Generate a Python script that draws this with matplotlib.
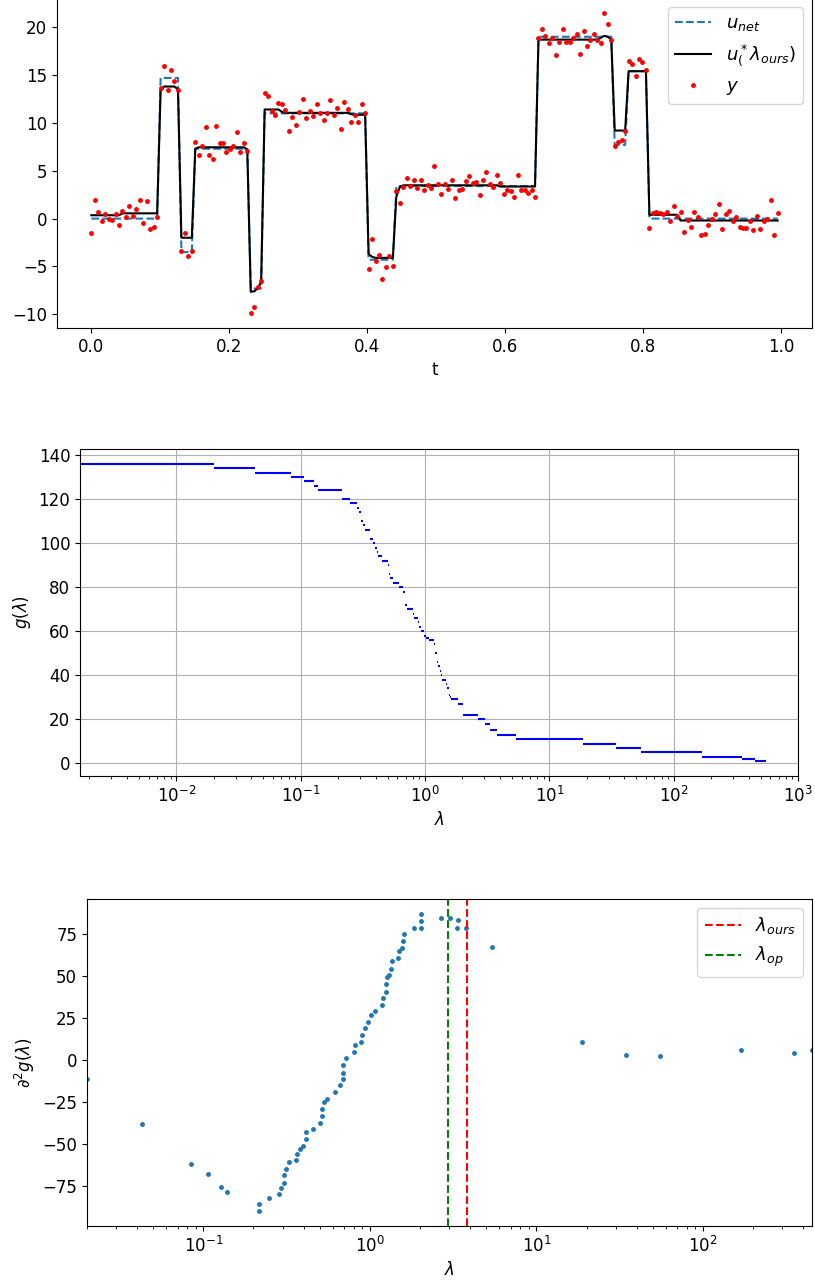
import matplotlib
matplotlib.use('Agg')
import matplotlib.pyplot as plt
import numpy as np

plt.rcParams['font.size'] = 12

# ---- top panel: signal, estimate and noisy samples ----
t = np.linspace(0, 0.995, 199)

y_obs = [-1.46, 1.99, 0.73, -0.28, 0.45, 0.0, -0.18, 0.52, -0.67, 0.8,
         0.13, 1.29, 0.24, 1.0, 1.98, -0.49, 1.88, -1.08, -0.87, 0.2,
         13.6, 15.9, 13.4, 15.5, 14.35, 13.4, -3.38, -1.54, -3.9, -3.38,
         8.05, 6.69, 7.6, 9.54, 6.69, 6.27, 9.68, 7.94, 7.94, 6.96,
         7.24, 7.6, 9.02, 6.96, 7.94, 7.07, -9.87, -9.27, -7.1, -6.55,
         13.17, 12.8, 11.2, 10.8, 12.1, 12.0, 11.3, 9.16, 10.6, 9.8,
         11.1, 12.5, 10.5, 11.2, 10.7, 12.0, 11.0, 10.3, 11.0, 12.4,
         10.8, 11.6, 9.4, 12.2, 11.5, 10.1, 10.8, 10.1, 12.0, 11.0,
         -5.3, -2.1, -4.4, -3.8, -6.3, -5.1, -3.9, -4.95, 2.9, 1.67,
         3.3, 4.24, 3.4, 4.07, 3.24, 4.03, 2.96, 3.5, 3.24, 5.5,
         3.6, 2.57, 3.66, 3.13, 4.07, 2.19, 3.03, 3.13, 3.93, 4.42,
         3.72, 3.83, 2.47, 4.03, 4.91, 3.59, 3.3, 4.53, 3.72, 2.57,
         3.03, 2.89, 2.26, 4.53, 2.96, 2.96, 2.68, 3.03, 2.26, 18.9,
         19.8, 19.06, 18.36, 18.9, 17.07, 18.43, 19.8, 18.43, 18.43, 18.9,
         19.34, 17.17, 19.55, 18.05, 18.64, 19.27, 18.64, 18.36, 21.5, 20.3,
         18.7, 7.56, 8.05, 8.18, 9.12, 16.44, 16.2, 14.95, 16.68, 16.37,
         15.53, -0.98, 0.59, 0.73, 0.63, 0.48, 0.66, -0.25, 1.29, 0.3,
         0.73, -1.43, -0.1, -0.88, 0.73, 0.2, -1.75, -1.6, -0.67, -0.04,
         0.52, 1.53, -1.09, 0.52, 0.84, -0.28, 0.17, -0.88, -0.94, -0.94,
         -0.25, -1.22, 0.31, -1.09, -0.25, 0.0, 1.99, -1.75, 0.63]

# piecewise constant pieces (level, number of samples)
unet_levels = [0.0, 14.7, -3.5, 7.3, -7.3, 11.0, -4.3, 3.4, 19.0, 7.7, 15.4, 0.0]
unet_counts = [20, 6, 4, 16, 4, 30, 8, 41, 22, 4, 6, 38]

ustar_levels = [0.35, 0.55, 13.4, 13.8, 13.5, -2.0, 7.3, 7.45, 7.2,
                -7.65, -7.6, -7.3, -6.6, 11.4, 11.15, 11.05, 10.9, 10.85,
                -3.7, -4.0, -4.1, 2.3, 3.3, 3.48, 3.35,
                18.7, 18.9, 19.1, 19.0, 18.7, 9.2, 15.4, 0.4, -0.2]
ustar_counts = [9, 11, 1, 4, 1, 4, 1, 14, 1,
                1, 1, 1, 1, 5, 1, 19, 1, 4,
                1, 1, 6, 1, 1, 28, 11,
                18, 1, 1, 1, 1, 4, 6, 9, 29]

# ---- lower panels: breakpoints of g, g level after each, 2nd difference ----
lam_min, lam_max = 0.00168, 553.0
g_start = 136
lam_breaks = [0.020, 0.0427, 0.0838, 0.106, 0.1285, 0.138, 0.216, 0.216, 0.249, 0.284,
              0.294, 0.305, 0.306, 0.315, 0.328, 0.358, 0.363, 0.380, 0.396, 0.413,
              0.415, 0.453, 0.501, 0.515, 0.515, 0.527, 0.552, 0.620, 0.660, 0.686,
              0.686, 0.688, 0.722, 0.800, 0.813, 0.879, 0.900, 0.933, 0.973, 1.010,
              1.067, 1.180, 1.200, 1.250, 1.250, 1.260, 1.310, 1.340, 1.360, 1.470,
              1.490, 1.570, 1.590, 1.610, 1.850, 2.020, 2.020, 2.020, 2.660, 3.040,
              3.320, 3.360, 3.790, 5.380, 18.70, 34.50, 55.00, 169.0, 351.0, 452.0]
g_after = [134, 132, 130, 128, 126, 124, 122, 120, 118, 116,
           114, 112, 110, 108, 106, 104, 102, 100, 98, 96,
           94, 92, 90, 88, 86, 84, 82, 80, 78, 76,
           74, 72, 70, 68, 66, 64, 62, 60, 58, 57,
           56, 54, 50, 48, 46, 44, 42, 40, 38, 36,
           34, 31, 30, 29, 27, 25, 23, 22, 20, 18,
           17, 15, 13, 11, 9, 7, 5, 3, 2, 1]
d2g = [-11.5, -38.0, -62.0, -68.1, -75.9, -78.3, -86.0, -90.0, -82.2, -79.9,
       -76.1, -73.3, -68.7, -64.8, -61.0, -59.8, -56.0, -53.0, -51.0, -47.0,
       -43.1, -40.9, -37.2, -33.2, -29.2, -25.2, -23.0, -19.1, -15.1, -11.3,
       -7.4, -3.0, 1.0, 5.0, 8.9, 11.1, 15.1, 19.1, 22.8, 26.8,
       29.0, 32.8, 37.0, 40.7, 45.3, 49.3, 50.8, 54.6, 59.2, 60.8,
       64.8, 66.9, 70.9, 74.9, 78.8, 78.8, 83.0, 87.2, 85.0, 85.0,
       78.8, 83.3, 78.8, 67.2, 11.1, 2.8, 2.2, 6.1, 4.0, 6.1]

lam_op = 2.96
lam_ours = 3.83

fig = plt.figure(figsize=(8.15, 12.82), dpi=100)

# top
ax1 = fig.add_axes([0.0699, 0.7441, 0.9264, 0.2576])
u_net = np.repeat(unet_levels, unet_counts)
u_star = np.repeat(ustar_levels, ustar_counts)
ax1.plot(t, u_net, '--', color='C0', label='$u_{net}$')
ax1.plot(t, u_star, 'k-', label=r'$u_(^*\lambda_{ours})$')
ax1.plot(t, y_obs, 'r.', markersize=5, label='$y$')
ax1.set_xlabel('t')
ax1.legend(loc='upper right', fontsize=13)

# middle
ax2 = fig.add_axes([0.0982, 0.3947, 0.881, 0.2551])
xmin = [lam_min] + lam_breaks
xmax = lam_breaks + [lam_max]
levels = [g_start] + g_after
ax2.hlines(levels, xmin, xmax, colors='b')
ax2.set_xscale('log')
ax2.set_xlim(lam_min, 1000)
ax2.grid(True)
ax2.set_xlabel(r'$\lambda$')
ax2.set_ylabel(r'$g(\lambda)$')

# bottom
ax3 = fig.add_axes([0.1067, 0.04368, 0.8896, 0.2551])
ax3.plot(lam_breaks, d2g, '.', color='C0', markersize=5)
ax3.axvline(lam_ours, color='r', linestyle='--', label=r'$\lambda_{ours}$')
ax3.axvline(lam_op, color='g', linestyle='--', label=r'$\lambda_{op}$')
ax3.set_xscale('log')
ax3.set_xlim(lam_breaks[0], lam_breaks[-1])
ax3.set_xlabel(r'$\lambda$')
ax3.set_ylabel(r'$\partial^2 g(\lambda)$')
ax3.legend(loc='upper right', fontsize=13)

fig.savefig('out.png', dpi=100)
